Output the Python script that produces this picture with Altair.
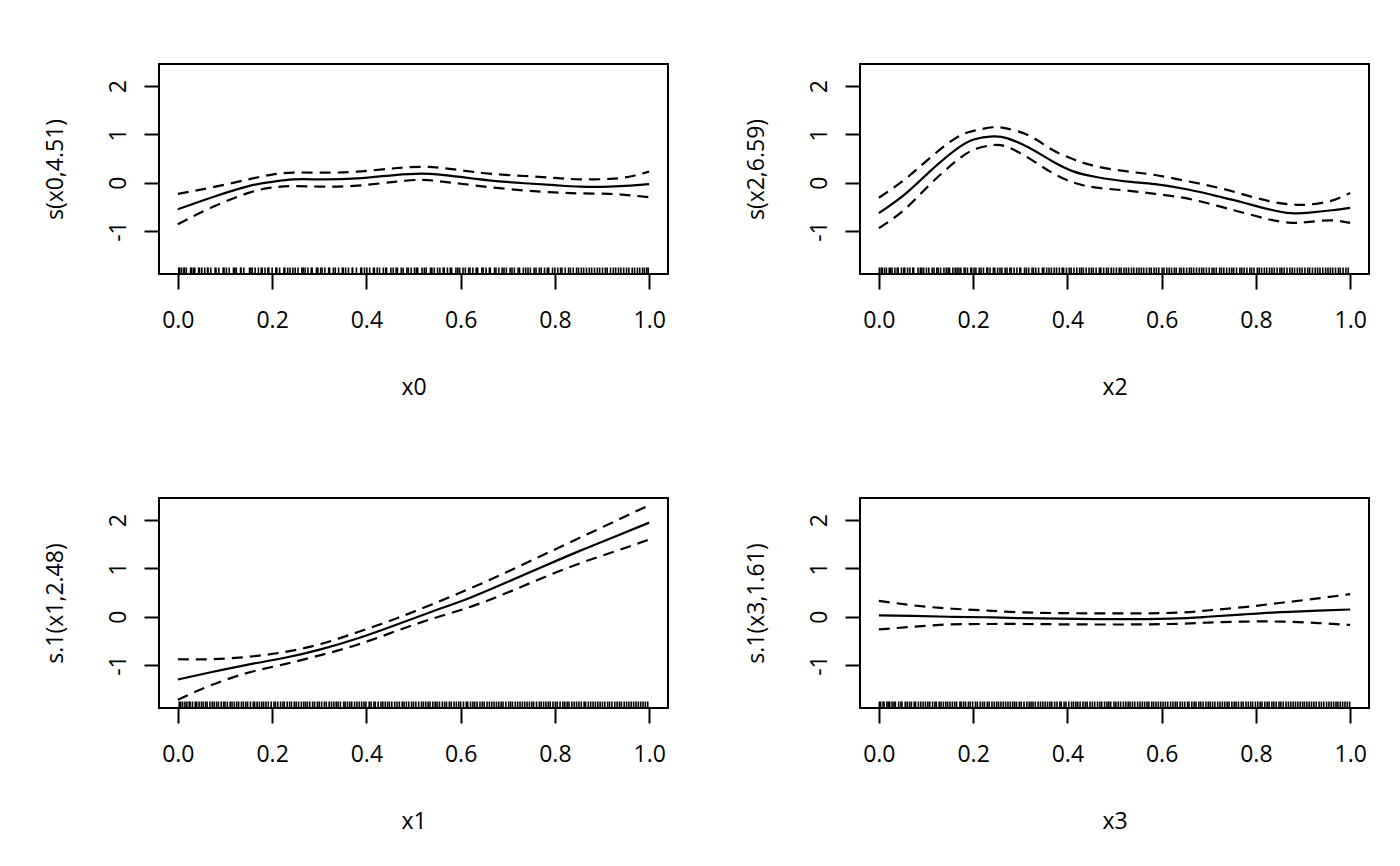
import altair as alt
import pandas as pd

FONT = "Open Sans"
FS = 23

# ---------------- panel 1 : s(x0,4.51) ----------------
x0_grid = [0, 0.07, 0.15, 0.2, 0.245, 0.305, 0.38, 0.46, 0.517, 0.556, 0.6, 0.66, 0.736, 0.8, 0.854, 0.916, 0.96, 1.0]
x0_fit = [-0.55, -0.31, -0.07, 0.02, 0.07, 0.07, 0.09, 0.16, 0.19, 0.17, 0.12, 0.05, -0.01, -0.05, -0.08, -0.08, -0.06, -0.03]
x0_up = [-0.23, -0.10, 0.07, 0.17, 0.21, 0.21, 0.23, 0.30, 0.33, 0.31, 0.26, 0.19, 0.14, 0.10, 0.07, 0.08, 0.13, 0.23]
x0_lo = [-0.86, -0.52, -0.21, -0.10, -0.07, -0.08, -0.06, 0.02, 0.06, 0.03, -0.02, -0.09, -0.16, -0.20, -0.22, -0.23, -0.26, -0.30]
x0_rug = [2, 4, 8, 13, 14, 18, 27, 29, 33, 36, 44, 46, 51, 57, 63, 64, 70, 79, 81, 87, 96, 98, 103, 109, 118, 121,
          124, 133, 134, 140, 152, 155, 158, 164, 171, 177, 179, 185, 191, 193, 200, 208, 210, 216, 225, 227, 233,
          238, 244, 249, 255, 263, 266, 270, 276, 283, 285, 294, 297, 303, 306, 312, 320, 322, 330, 334, 341, 349,
          351, 356, 362, 370, 371, 379, 388, 390, 396, 401, 407, 415, 417, 423, 428, 436, 441, 443, 452, 457, 463,
          466, 474, 478, 486, 489, 495, 502, 506, 509, 518, 523, 527, 536, 539, 544, 551, 556, 563, 565, 572, 578,
          581, 590, 594, 598, 605, 610, 617, 620, 626, 633, 636, 645, 648, 654, 661, 663, 672, 675, 681, 688, 692,
          697, 705, 709, 714, 722, 725, 733, 738, 743, 748, 756, 760, 767, 771, 778, 784, 787, 795, 800, 806, 812,
          815, 822, 829, 833, 839, 846, 850, 856, 861, 867, 873, 878, 884, 890, 895, 901, 907, 911, 918, 924, 929,
          935, 940, 946, 952, 957, 964, 969, 975, 980, 986, 990, 995, 998]

# ---------------- panel 2 : s(x2,6.59) ----------------
x2_grid = [0, 0.055, 0.109, 0.164, 0.203, 0.242, 0.273, 0.32, 0.367, 0.414, 0.461, 0.523, 0.586, 0.656, 0.719, 0.773, 0.828, 0.875, 0.914, 0.961, 1.0]
x2_fit = [-0.63, -0.24, 0.24, 0.69, 0.90, 0.96, 0.92, 0.72, 0.45, 0.23, 0.12, 0.03, -0.03, -0.14, -0.28, -0.41, -0.55, -0.63, -0.62, -0.57, -0.52]
x2_up = [-0.31, 0.07, 0.52, 0.93, 1.08, 1.15, 1.12, 0.97, 0.69, 0.48, 0.34, 0.24, 0.16, 0.03, -0.10, -0.24, -0.38, -0.45, -0.45, -0.37, -0.21]
x2_lo = [-0.94, -0.55, -0.03, 0.45, 0.69, 0.78, 0.74, 0.50, 0.21, 0.0, -0.10, -0.16, -0.23, -0.33, -0.48, -0.62, -0.76, -0.83, -0.81, -0.78, -0.83]
x2_rug = [1, 5, 7, 12, 16, 22, 25, 28, 34, 39, 41, 48, 53, 55, 61, 66, 72, 74, 83, 88, 91, 95, 101, 106, 113, 117,
          123, 126, 131, 138, 143, 147, 150, 157, 162, 166, 170, 174, 181, 183, 188, 195, 197, 202, 206, 213, 217,
          222, 229, 231, 236, 243, 246, 252, 257, 261, 268, 272, 278, 281, 287, 293, 299, 301, 309, 313, 318, 325,
          328, 333, 339, 347, 350, 356, 361, 366, 372, 377, 383, 389, 392, 398, 404, 408, 414, 420, 426, 430, 434,
          440, 446, 451, 455, 461, 468, 471, 477, 483, 487, 493, 498, 504, 510, 514, 520, 525, 530, 536, 541, 547,
          552, 557, 562, 568, 574, 578, 584, 589, 594, 601, 605, 611, 616, 621, 627, 631, 638, 642, 647, 653, 659,
          663, 668, 674, 680, 685, 689, 695, 701, 707, 711, 716, 723, 727, 732, 738, 744, 749, 753, 759, 766, 770,
          775, 781, 787, 791, 796, 803, 807, 812, 818, 823, 829, 834, 839, 845, 851, 855, 860, 866, 872, 877, 882,
          888, 893, 898, 904, 910, 914, 920, 926, 931, 936, 942, 948, 953, 958, 963, 969, 975, 979, 985, 991, 996]

# ---------------- panel 3 : s.1(x1,2.48) ----------------
x1_grid = [0, 0.07, 0.149, 0.227, 0.305, 0.384, 0.462, 0.54, 0.619, 0.697, 0.775, 0.854, 0.932, 1.0]
x1_fit = [-1.30, -1.15, -0.99, -0.85, -0.67, -0.44, -0.17, 0.11, 0.39, 0.71, 1.04, 1.37, 1.68, 1.95]
x1_up = [-0.88, -0.88, -0.83, -0.73, -0.56, -0.31, -0.04, 0.26, 0.58, 0.92, 1.28, 1.64, 2.00, 2.31]
x1_lo = [-1.72, -1.42, -1.16, -0.98, -0.79, -0.57, -0.30, -0.04, 0.20, 0.49, 0.81, 1.11, 1.37, 1.60]
x1_rug = [3, 6, 10, 15, 19, 24, 26, 31, 37, 40, 45, 50, 54, 59, 62, 68, 73, 77, 82, 86, 92, 97, 100, 105, 111, 115,
          120, 125, 129, 135, 139, 144, 148, 154, 160, 163, 168, 173, 178, 182, 187, 192, 198, 204, 207, 212, 218,
          223, 226, 232, 237, 241, 247, 251, 256, 262, 267, 271, 275, 280, 286, 290, 296, 300, 305, 311, 315, 321,
          326, 331, 336, 340, 345, 352, 355, 360, 365, 369, 375, 380, 385, 390, 395, 399, 406, 410, 416, 419, 425,
          431, 435, 440, 445, 449, 454, 460, 465, 470, 476, 480, 485, 490, 496, 500, 505, 511, 517, 521, 526, 531,
          535, 541, 546, 550, 555, 561, 566, 570, 576, 580, 586, 591, 596, 600, 606, 612, 615, 621, 626, 630, 635,
          641, 646, 650, 656, 661, 666, 671, 676, 681, 686, 690, 696, 702, 706, 710, 716, 721, 726, 731, 736, 741,
          746, 751, 755, 761, 767, 771, 776, 781, 786, 790, 796, 801, 805, 811, 817, 821, 826, 830, 836, 841, 846,
          851, 856, 862, 865, 871, 876, 881, 886, 891, 896, 901, 906, 912, 916, 921, 927, 932, 937, 941, 947, 952,
          957, 962, 967, 972, 977, 982, 987, 992, 997]

# ---------------- panel 4 : s.1(x3,1.61) ----------------
x3_grid = [0, 0.07, 0.149, 0.227, 0.305, 0.462, 0.619, 0.697, 0.775, 0.854, 0.932, 1.0]
x3_fit = [0.03, 0.02, 0.0, -0.01, -0.03, -0.05, -0.04, 0.0, 0.05, 0.095, 0.125, 0.15]
x3_up = [0.33, 0.24, 0.17, 0.13, 0.09, 0.07, 0.08, 0.13, 0.20, 0.29, 0.38, 0.47]
x3_lo = [-0.26, -0.21, -0.16, -0.15, -0.15, -0.16, -0.15, -0.12, -0.10, -0.10, -0.13, -0.17]
x3_rug = [1, 4, 9, 11, 17, 20, 23, 28, 32, 35, 42, 47, 49, 56, 60, 65, 69, 75, 78, 84, 89, 94, 99, 104, 108, 114,
          119, 122, 128, 132, 137, 142, 146, 151, 156, 161, 165, 172, 175, 180, 184, 190, 194, 199, 205, 209, 215,
          220, 224, 230, 234, 240, 245, 250, 254, 259, 264, 269, 274, 279, 284, 288, 292, 298, 302, 308, 314, 319,
          323, 327, 332, 338, 343, 348, 353, 358, 363, 367, 373, 378, 384, 387, 393, 397, 403, 409, 413, 418, 422,
          427, 433, 438, 442, 448, 453, 458, 464, 469, 473, 479, 484, 488, 492, 499, 503, 508, 513, 519, 524, 529,
          533, 538, 543, 549, 554, 559, 564, 569, 573, 579, 583, 588, 593, 598, 603, 608, 613, 619, 624, 629, 633,
          639, 644, 649, 655, 658, 664, 669, 673, 679, 683, 688, 694, 699, 703, 708, 713, 719, 724, 729, 734, 739,
          743, 749, 754, 758, 763, 769, 773, 779, 784, 789, 793, 799, 804, 809, 813, 819, 824, 828, 834, 838, 843,
          849, 853, 858, 864, 869, 874, 879, 884, 889, 894, 899, 903, 908, 913, 918, 923, 928, 934, 939, 944, 950,
          955, 960, 965, 970, 974, 979, 984, 989, 994, 999]

x_ticks = [0.0, 0.2, 0.4, 0.6, 0.8, 1.0]
y_ticks = [-1, 0, 1, 2]
x_domain = [-0.04, 1.04]
y_domain = [-1.89, 2.46]

PW, PH = 509, 210


def make_panel(xs, fit, up, lo, rug, xtitle, ytitle):
    n = len(xs)
    curves = pd.DataFrame({
        "x": xs * 3,
        "v": fit + up + lo,
        "k": ["fit"] * n + ["upper"] * n + ["lower"] * n,
    })
    rugdf = pd.DataFrame({"x": [r / 1000 for r in rug]})
    xsc = alt.Scale(domain=x_domain, nice=False, zero=False)
    ysc = alt.Scale(domain=y_domain, nice=False, zero=False)
    xax = alt.Axis(values=x_ticks, format=".1f", title=xtitle)
    yax = alt.Axis(values=y_ticks, labelExpr="'' + datum.value", title=ytitle)
    base = alt.Chart(curves)
    solid = base.transform_filter(alt.datum.k == "fit").mark_line(
        color="black", strokeWidth=2.2, interpolate="natural"
    ).encode(x=alt.X("x:Q", scale=xsc, axis=xax), y=alt.Y("v:Q", scale=ysc, axis=yax))
    dashed = base.transform_filter(alt.datum.k != "fit").mark_line(
        color="black", strokeWidth=2.2, interpolate="natural", strokeDash=[11, 7]
    ).encode(x=alt.X("x:Q", scale=xsc, axis=xax), y=alt.Y("v:Q", scale=ysc, axis=yax), detail="k:N")
    rugc = alt.Chart(rugdf).mark_rule(color="black", strokeWidth=1.6).encode(
        x=alt.X("x:Q", scale=xsc, axis=xax), y=alt.value(PH), y2=alt.value(PH - 6.5)
    )
    return alt.layer(solid, dashed, rugc).properties(width=PW, height=PH)


p1 = make_panel(x0_grid, x0_fit, x0_up, x0_lo, x0_rug, "x0", "s(x0,4.51)")
p2 = make_panel(x2_grid, x2_fit, x2_up, x2_lo, x2_rug, "x2", "s(x2,6.59)")
p3 = make_panel(x1_grid, x1_fit, x1_up, x1_lo, x1_rug, "x1", "s.1(x1,2.48)")
p4 = make_panel(x3_grid, x3_fit, x3_up, x3_lo, x3_rug, "x3", "s.1(x3,1.61)")

chart = alt.vconcat(
    alt.hconcat(p1, p2, spacing=75),
    alt.hconcat(p3, p4, spacing=75),
    spacing=97,
).properties(
    padding={"left": 35, "top": 55, "right": 5, "bottom": 5},
    background="white",
).configure_view(
    stroke="black", strokeWidth=2
).configure_axis(
    domain=False, grid=False, ticks=True, tickColor="black", tickWidth=2, tickSize=15,
    labelFont=FONT, labelFontSize=FS, labelColor="black",
    titleFont=FONT, titleFontSize=FS, titleColor="black", titleFontWeight="normal",
).configure_axisX(
    labelPadding=20, titlePadding=44
).configure_axisY(
    labelAngle=270, labelPadding=14, titlePadding=40
)

chart.save("out.html", embed_options={"renderer": "svg", "actions": False})
